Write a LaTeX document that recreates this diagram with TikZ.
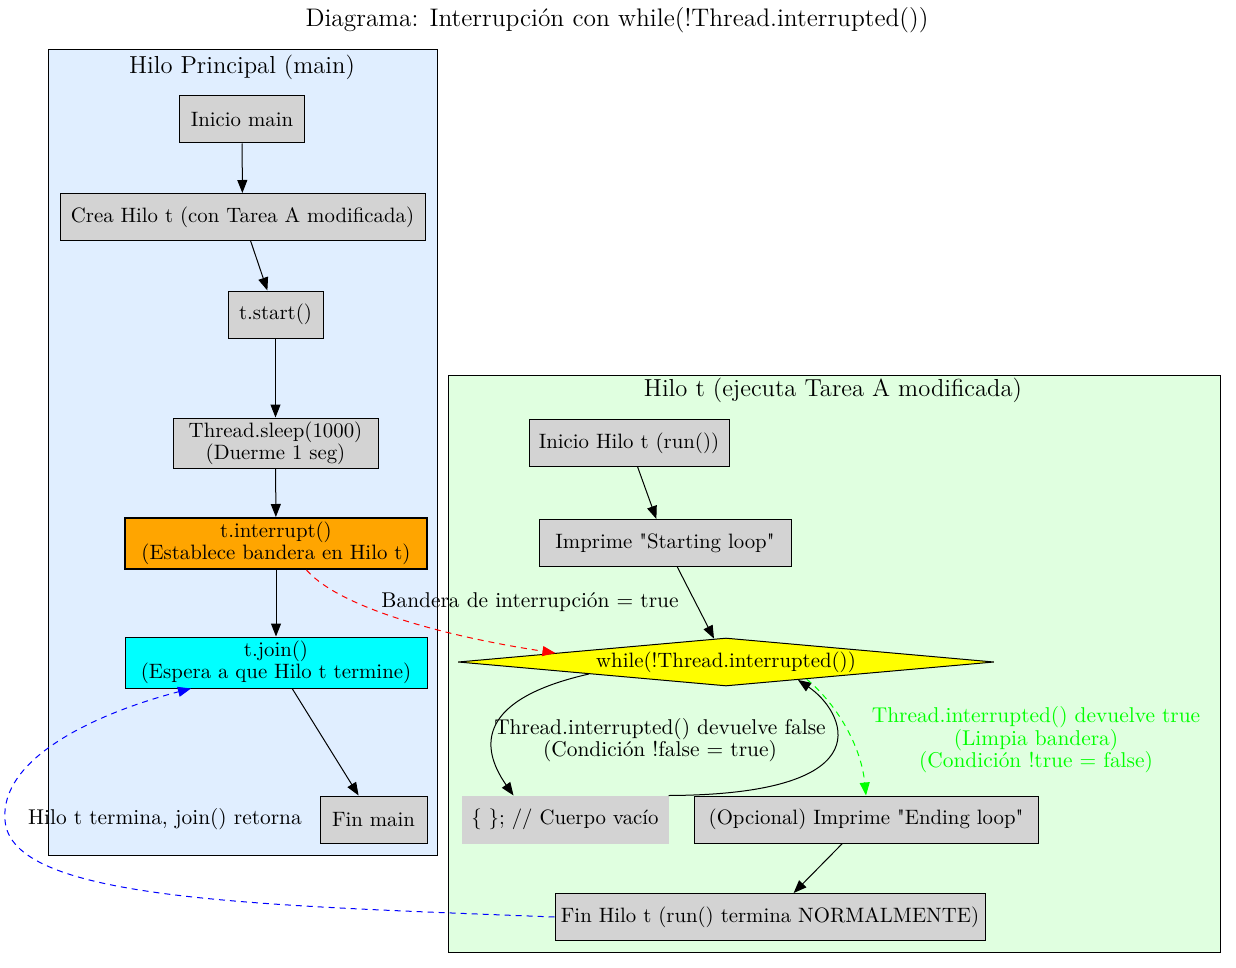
\documentclass[tikz,border=0pt]{standalone}
\usepackage{tikz}
\usetikzlibrary{positioning,arrows.meta,shapes.geometric}

\definecolor{mainbg}{RGB}{224,238,255}
\definecolor{hilobg}{RGB}{224,255,224}
\definecolor{nodegray}{RGB}{211,211,211}
\definecolor{gvorange}{RGB}{255,165,0}
\definecolor{gvcyan}{RGB}{0,255,255}
\definecolor{gvyellow}{RGB}{255,255,0}
\definecolor{gvgreen}{RGB}{0,255,0}
\newcommand{\qq}{\XeTeXglyph\XeTeXcharglyph"22\relax}

\begin{document}
\begin{tikzpicture}[x=0.5pt,y=-0.5pt,
  font=\fontsize{10.7}{11.2}\selectfont,
  biglbl/.style={font=\fontsize{12.3}{13}\selectfont},
  procbox/.style={draw, fill=nodegray, line width=0.5pt, inner xsep=2pt, inner ysep=1pt,
    minimum height=23.5pt, align=center, font=\fontsize{10.4}{11}\selectfont},
  arr/.style={-{Triangle[length=6.5pt,width=5pt]}, line width=0.5pt},
  dasharr/.style={arr, dash pattern=on 3pt off 2.5pt}]
\useasboundingbox (0,0) rectangle (1236,968);
% clusters
\draw[fill=mainbg, line width=0.5pt] (48,50) rectangle (437,855);
\draw[fill=hilobg, line width=0.5pt] (448,375) rectangle (1220,952);
\node[font=\fontsize{12.7}{13}\selectfont] (title) at (617,20) {Diagrama: Interrupción con while(!Thread.interrupted())};
\node[biglbl] (mainlbl) at (242,67) {Hilo Principal (main)};
\node[biglbl] (hilolbl) at (833,390) {Hilo t (ejecuta Tarea A modificada)};

% hilo principal
\node[procbox, minimum width=62.5pt] (inicioMain) at (242,119.5) {Inicio main};
\node[procbox, minimum width=182.5pt] (creaHilo) at (242.5,217) {Crea Hilo t (con Tarea A modificada)};
\node[procbox, minimum width=47.5pt] (tstart) at (275.5,314.5) {t.start()};
\node[procbox, minimum width=102.5pt, minimum height=25pt] (sleep) at (275.5,443) {Thread.sleep(1000)\\(Duerme 1 seg)};
\node[procbox, minimum width=151pt, minimum height=25.5pt, fill=gvorange, line width=1pt] (interrupt) at (276,543.5) {t.interrupt()\\(Establece bandera en Hilo t)};
\node[procbox, minimum width=151pt, minimum height=25.5pt, fill=gvcyan] (join) at (276,662.5) {t.join()\\(Espera a que Hilo t termine)};
\node[procbox, minimum width=53.5pt] (finMain) at (373.5,819.5) {Fin main};

% hilo t
\node[procbox, minimum width=100pt] (inicioT) at (629,443) {Inicio Hilo t (run())};
\node[procbox, minimum width=126pt] (imprime) at (665,543) {Imprime \qq Starting loop\qq};
\node[diamond, draw, fill=gvyellow, line width=0.5pt, aspect=11, inner sep=0pt,
  minimum width=268pt, minimum height=24pt, font=\fontsize{10.4}{11}\selectfont] (cond) at (726,662) {while(!Thread.interrupted())};
\node[procbox, minimum width=103pt, draw=nodegray] (cuerpo) at (565,819.5) {\{ \}; // Cuerpo vacío};
\node[procbox, minimum width=172pt] (ending) at (866,819.5) {(Opcional) Imprime \qq Ending loop\qq};
\node[procbox, minimum width=215pt] (finT) at (770,917) {Fin Hilo t (run() termina NORMALMENTE)};

\draw[arr] (inicioMain) -- (creaHilo);
\draw[arr] (creaHilo) -- (tstart);
\draw[arr] (tstart) -- (sleep);
\draw[arr] (sleep) -- (interrupt);
\draw[arr] (interrupt) -- (join);
\draw[arr] (join) -- (finMain);
\draw[arr] (inicioT) -- (imprime);
\draw[arr] (imprime) -- (cond);
\draw[arr] (ending) -- (finT);

% bucle
\draw[arr] (cond.185) .. controls +(-110,25) and +(-35,-50) .. (cuerpo.155.7);
\node[align=center] (lblfalse) at (660,740) {Thread.interrupted() devuelve false\\(Condición !false = true)};
\draw[arr] (cuerpo.north east) .. controls +(222,-1) and +(45,30) .. (cond.-14.6);
\draw[dasharr, gvgreen] (cond.-12.1) .. controls +(30,25) and +(-5,-50) .. (ending.north);
\node[align=center, text=gvgreen] (lbltrue) at (1036,740) {Thread.interrupted() devuelve true\\(Limpia bandera)\\(Condición !true = false)};

% entre hilos
\draw[dasharr, red] (interrupt.-41) .. controls +(35,40) and +(-100,-15) .. (cond.177.7);
\node (lblflag) at (530,602) {Bandera de interrupción = true};
\coordinate (loopw) at (5,820);
\draw[dasharr, blue] (finT.west) .. controls (250,905) and (10,900) .. (loopw)
  .. controls (0,760) and (90,715) .. (join.197.5);
\node (lbljoin) at (165,819) {Hilo t termina, join() retorna};
\end{tikzpicture}
\end{document}
